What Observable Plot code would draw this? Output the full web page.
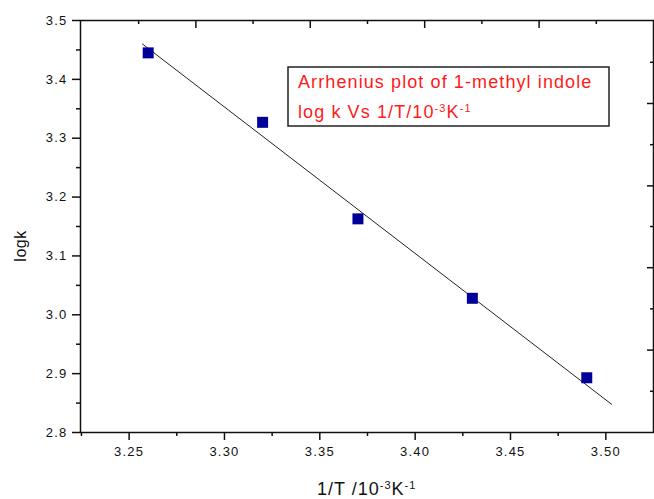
<!DOCTYPE html>
<html>
<head>
<meta charset="utf-8">
<script src="https://cdn.jsdelivr.net/npm/d3@7"></script>
<script src="https://cdn.jsdelivr.net/npm/@observablehq/plot@0.6"></script>
<style>
  html, body { margin: 0; padding: 0; background: #fff; }
  svg { display: block; }
</style>
</head>
<body>
<script>
// Data
const invT = [3.26, 3.32, 3.37, 3.43, 3.49];
const logk = [3.445, 3.327, 3.163, 3.028, 2.893];
// Fitted line endpoints as drawn
const fitX = [3.257, 3.503];
const fitY = [3.460, 2.848];
// Tick values
const xMajor = [3.25, 3.30, 3.35, 3.40, 3.45, 3.50];
const xMinor = [3.225, 3.275, 3.325, 3.375, 3.425, 3.475];
const yMajor = [2.8, 2.9, 3.0, 3.1, 3.2, 3.3, 3.4, 3.5];
const yMinor = [2.85, 2.95, 3.05, 3.15, 3.25, 3.35, 3.45];
const topLong = [3.285, 3.345, 3.405, 3.465];
const topShort = [3.255, 3.315, 3.375, 3.435, 3.495];
const rightLong = [3.359, 3.219, 3.080, 2.940];
const rightShort = [3.429, 3.289, 3.150, 3.010, 2.870];
const xTitle = ["1/T /10", "-3", "K", "-1"];
const yTitle = "logk";
const noteLine1 = "Arrhenius plot of 1-methyl indole";
const noteLine2 = ["log k Vs 1/T/10", "-3", "K", "-1"];

const points = invT.map((x, i) => ({x, y: logk[i]}));
const fit = fitX.map((x, i) => ({x, y: fitY[i]}));

const W = 654, H = 499, mL = 80, mR = 1, mT = 20, mB = 67;
const fw = W - mL - mR, fh = H - mT - mB;

const svg = Plot.plot({
  width: W, height: H,
  marginLeft: mL, marginRight: mR, marginTop: mT, marginBottom: mB,
  x: {domain: [3.2245, 3.525]},
  y: {domain: [2.8, 3.5]},
  style: {fontFamily: "'Liberation Sans', Arial, sans-serif", fontSize: "13px", color: "#111", letterSpacing: "1.2px", background: "#fff"},
  marks: [
    Plot.axisX(xMajor, {tickSize: 8, tickPadding: 6, tickFormat: d3.format(".2f"), label: null, strokeWidth: 1.5}),
    Plot.axisX(xMinor, {tickSize: 4, tickFormat: () => "", label: null, strokeWidth: 1.5}),
    Plot.axisY(yMajor, {tickSize: 8, tickPadding: 5, tickFormat: d3.format(".1f"), label: null, strokeWidth: 1.5}),
    Plot.axisY(yMinor, {tickSize: 4, tickFormat: () => "", label: null, strokeWidth: 1.5}),
    Plot.ruleX(topLong, {insetBottom: fh - 8, stroke: "#111", strokeWidth: 1.5}),
    Plot.ruleX(topShort, {insetBottom: fh - 4, stroke: "#111", strokeWidth: 1.5}),
    Plot.ruleY(rightLong, {insetLeft: fw - 6, stroke: "#111", strokeWidth: 1.5}),
    Plot.ruleY(rightShort, {insetLeft: fw - 3, stroke: "#111", strokeWidth: 1.5}),
    Plot.frame({stroke: "#111", strokeWidth: 1.5}),
    Plot.line(fit, {x: "x", y: "y", stroke: "#222", strokeWidth: 1}),
    Plot.dot(points, {x: "x", y: "y", symbol: "square", r: 6.2, fill: "#000099", stroke: "none"})
  ]
});
document.body.appendChild(svg);

const s = d3.select(svg);
const font = "'Liberation Sans', Arial, sans-serif";

function supText(g, parts, size, supSize) {
  parts.forEach((p, i) => {
    const t = g.append("tspan").text(p);
    if (i % 2 === 1) {
      t.attr("font-size", supSize).attr("baseline-shift", "super");
    } else {
      t.attr("font-size", size);
    }
  });
}

// X axis title
const xt = s.append("text")
  .attr("x", 317).attr("y", 495)
  .attr("text-anchor", "start")
  .attr("font-family", font).attr("fill", "#111")
  .style("letter-spacing", "1px");
supText(xt, xTitle, 18, 11);

// Y axis title
s.append("text")
  .attr("transform", "translate(26,246) rotate(-90)")
  .attr("text-anchor", "middle")
  .attr("font-family", font).attr("font-size", 16).attr("fill", "#111")
  .style("letter-spacing", "0.5px")
  .text(yTitle);

// Annotation box
s.append("rect")
  .attr("x", 288).attr("y", 67).attr("width", 321).attr("height", 59)
  .attr("fill", "#fff").attr("stroke", "#222").attr("stroke-width", 1.5);
s.append("text")
  .attr("x", 298).attr("y", 88)
  .attr("text-anchor", "start")
  .attr("font-family", font).attr("font-size", 18).attr("fill", "#ff1a1a")
  .style("letter-spacing", "1.1px")
  .text(noteLine1);
const n2 = s.append("text")
  .attr("x", 298).attr("y", 118)
  .attr("text-anchor", "start")
  .attr("font-family", font).attr("fill", "#ff1a1a")
  .style("letter-spacing", "1.1px");
supText(n2, noteLine2, 18, 11);
</script>
</body>
</html>
